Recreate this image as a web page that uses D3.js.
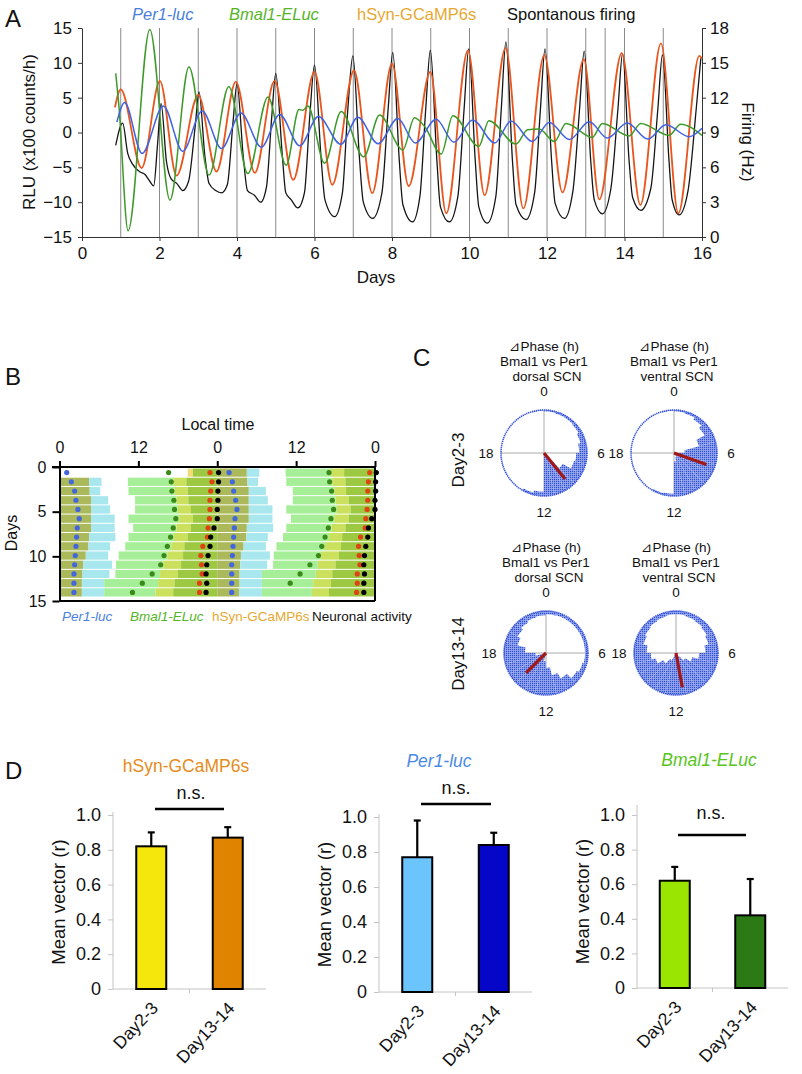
<!DOCTYPE html>
<html><head><meta charset="utf-8">
<script src="https://cdn.jsdelivr.net/npm/d3@7"></script>
<style>body{margin:0;background:#fff}svg{display:block}</style>
</head><body><svg id="c" width="802" height="1074"></svg>
<script>
const FONT = "'Liberation Sans', Arial, 'DejaVu Sans', sans-serif";

// ================= DATA =================
// Panel A
const aDayTicks = [0,2,4,6,8,10,12,14,16];
const aRluTicks = [-15,-10,-5,0,5,10,15];
const aHzTicks = [0,3,6,9,12,15,18];
const aDayLines = [1,2,3,4,5,6,7,8,9,10,11,12,13,13.5,14,15];
const aLegend = ["Per1-luc","Bmal1-ELuc","hSyn-GCaMP6s","Spontanous firing"];
const per1Trace = [[0.9,1.5],[1.1,4.3],[1.55,-3.0],[2.1,3.8],[2.6,-2.7],[3.1,3.1],[3.6,-2.3],[4.1,2.8],[4.63,-2.1],[5.1,2.6],[5.62,-1.9],[6.1,2.3],[6.68,-1.7],[7.12,2.2],[7.64,-1.6],[8.15,2.0],[8.6,-1.5],[9.14,1.9],[9.6,-1.4],[10.08,1.8],[10.65,-1.5],[11.07,1.65],[11.62,-1.3],[12.06,1.45],[12.58,-1.0],[13.09,1.55],[13.56,-0.8],[14.07,1.35],[14.6,-0.95],[15.07,1.1],[15.67,-0.6],[16.0,0.6]];
const bmal1Trace = [[0.87,8.5],[0.95,4.0],[1.19,-14.1],[1.75,14.8],[2.27,-9.7],[2.76,9.4],[3.28,-6.1],[3.79,6.6],[4.28,-5.9],[4.8,5.1],[5.27,-4.7],[5.6,3.3],[5.7,3.2],[5.83,3.8],[6.26,-4.4],[6.69,3.0],[7.27,-3.5],[7.68,2.5],[8.28,-2.5],[8.58,2.1],[8.85,0.8],[9.27,-3.1],[9.57,2.4],[10.24,-2.0],[10.5,1.7],[11.2,-1.65],[11.5,0.4],[11.8,0.5],[12.19,-1.3],[12.49,1.3],[13.17,-0.7],[13.43,1.3],[14.12,-0.5],[14.42,1.3],[15.15,-0.4],[15.45,1.2],[16.0,-0.4]];
const gcampTrace = [[0.85,3.6],[1.0,6.2],[1.54,-5.1],[2.01,7.4],[2.44,-6.2],[3.0,5.4],[3.47,-5.6],[3.97,7.3],[4.46,-5.8],[4.97,7.4],[5.45,-6.8],[6.0,8.7],[6.46,-7.5],[7.02,8.9],[7.49,-8.7],[8.0,9.9],[8.43,-7.7],[8.99,8.7],[9.4,-11.6],[9.96,11.8],[10.39,-9.0],[10.93,12.1],[11.39,-10.9],[11.93,11.1],[12.4,-8.6],[12.95,10.5],[13.35,-9.6],[13.93,11.4],[14.41,-10.4],[14.94,12.8],[15.39,-11.6],[15.93,11.0],[16.0,10.6]];
const firingTrace = [[0.87,7.9],[1.05,9.8],[1.18,7.2],[1.3,6.3],[1.5,5.6],[1.62,5.4],[1.75,4.8],[1.85,4.4],[1.95,8.0],[2.04,11.5],
 [2.18,6.5],[2.3,5.0],[2.45,4.6],[2.6,4.0],[2.75,4.8],[2.92,9.5],[3.02,12.5],
 [3.17,7.0],[3.28,4.6],[3.45,4.0],[3.6,3.8],[3.75,4.5],[3.9,10.0],[4.0,13.2],
 [4.16,7.0],[4.27,4.0],[4.45,3.6],[4.61,3.0],[4.76,4.3],[4.9,10.5],[5.0,14.1],
 [5.17,7.0],[5.26,3.8],[5.4,3.2],[5.57,2.5],[5.74,3.8],[5.88,10.5],[6.0,14.8],
 [6.17,6.8],[6.27,3.2],[6.52,1.75],[6.72,3.8],[6.86,11.0],[6.99,15.6],
 [7.16,6.8],[7.26,3.0],[7.5,1.6],[7.74,3.8],[7.9,11.0],[8.02,15.9],
 [8.19,6.5],[8.28,2.8],[8.53,1.3],[8.72,3.5],[8.87,11.0],[8.99,16.1],
 [9.16,6.5],[9.25,2.6],[9.48,1.3],[9.7,3.5],[9.86,11.0],[9.98,16.2],
 [10.15,6.5],[10.24,2.6],[10.46,1.2],[10.68,3.5],[10.82,11.0],[10.94,16.8],
 [11.11,6.5],[11.2,2.8],[11.46,1.5],[11.68,3.8],[11.83,11.0],[11.95,16.2],
 [12.12,6.5],[12.21,2.9],[12.45,1.6],[12.67,4.0],[12.84,11.0],[12.96,16.0],
 [13.13,6.5],[13.22,3.2],[13.43,2.0],[13.65,4.2],[13.83,11.0],[13.95,15.8],
 [14.12,6.5],[14.21,3.4],[14.42,2.3],[14.68,4.2],[14.86,11.0],[14.98,15.7],
 [15.15,6.5],[15.23,3.2],[15.41,1.9],[15.64,4.0],[15.85,11.0],[15.97,15.4]];

// Panel B (hours of local time, one value per day 0..14)
const bTimeTicks = [0,12,24,36,48];
const bDayTicks = [0,5,10,15];
const bLegend = ["Per1-luc","Bmal1-ELuc","hSyn-GCaMP6s","Neuronal activity"];
const bActEnd   = [0,4.5,4.6,4.8,4.8,4.8,4.8,4.5,4.4,4.0,3.6,3.5,3.4,3.4,3.3];
const bPerEnd   = [0,6.4,6.2,7.4,7.7,8.4,8.4,8.5,7.7,7.4,8.0,7.6,6.8,6.8,6.8];
const bBmalStart= [19.5,10.4,10.5,11.5,11.5,10.5,11.2,10.5,10.0,9.0,8.6,8.5,6.8,6.8,6.8];
const bBmalEnd  = [19.5,17.3,17.5,17.8,18.0,18.2,17.8,17.4,17.0,16.4,15.8,15.3,15.0,14.6,14.4];
const bYgEnd    = [20.3,19.3,19.5,19.6,20.0,20.3,20.0,19.5,19.0,18.8,18.5,18.0,17.5,17.3,17.0];
const bPer1Peak = [1.1,1.8,2.3,2.5,2.8,3.0,2.7,2.6,2.5,2.4,2.3,2.2,2.2,2.2,2.2];
const bBmalPeak = [16.6,17.0,17.1,17.4,17.5,17.7,17.3,16.9,16.4,15.9,15.4,14.1,12.6,11.1,null];
const bCaPeak   = [22.9,23.2,23.0,22.9,22.9,22.8,22.6,22.5,21.8,21.5,21.6,21.7,21.3,21.3,21.2];
const bFirePeak = [24.2,24.2,24.1,24.1,24.0,24.0,23.5,23.0,22.9,22.6,22.4,22.3,22.4,22.3,22.3];

// Panel C: fill start (fraction of radius) per 1-h bin, mean vector
const cClock = ["0","6","12","18"];
const cInnerD23 = [0.97,0.96,0.95,0.93,0.88,0.82,0.75,0.72,0.5,0.05,0,0,0.9,0.95,1,1,1,1,1,1,1,1,1,0.98];
const cInnerV23 = [0.97,0.95,0.9,0.82,0.6,0.25,0.05,0,0,0.05,0.1,0.2,0.95,0.97,1,1,1,1,1,1,1,1,1,0.98];
const cInnerD1314 = [0.92,0.93,0.93,0.93,0.93,0.93,0.93,0.9,0.85,0.7,0.55,0.35,0.2,0.05,0,0,0.05,0.25,0.5,0.7,0.78,0.84,0.88,0.9];
const cInnerV1314 = [0.92,0.9,0.88,0.85,0.8,0.7,0.55,0.4,0.25,0.1,0,0,0,0.05,0.2,0.35,0.5,0.6,0.7,0.8,0.85,0.88,0.9,0.92];
const cVecHour = [9.4,7.3,15.0,11.3];
const cVecLen = [0.78,0.8,0.67,0.83];

// Panel D
const dCats = ["Day2-3","Day13-14"];
const dTicks = [0,0.2,0.4,0.6,0.8,1.0];
const hsynMean = [0.82,0.87], hsynSD = [0.08,0.06];
const per1Mean = [0.77,0.84], per1SD = [0.21,0.07];
const bmalMean = [0.62,0.42], bmalSD = [0.08,0.21];

// ================= DRAW =================
const svg = d3.select('#c');
svg.append('rect').attr('width',802).attr('height',1074).attr('fill','#fff');
const defs = svg.append('defs');
const pat = defs.append('pattern').attr('id','stip').attr('width',2).attr('height',2).attr('patternUnits','userSpaceOnUse');
pat.append('rect').attr('width',2).attr('height',2).attr('fill','#9aabef');
pat.append('rect').attr('width',1.2).attr('height',1.2).attr('fill','#2f4fd6');

function styleAxis(g, fs, col, sw){
  g.attr('font-size',fs).attr('font-family',FONT);
  g.select('.domain').attr('stroke',col).attr('stroke-width',sw||1);
  g.selectAll('.tick line').attr('stroke',col).attr('stroke-width',sw||1);
  g.selectAll('.tick text').attr('fill','#111');
}
function label(x,y,t,fs,opts={}){
  const e = svg.append('text').attr('x',x).attr('y',y).text(t)
    .attr('font-size',fs).attr('font-family',FONT).attr('fill',opts.fill||'#111')
    .attr('text-anchor',opts.anchor||'start');
  if(opts.italic) e.attr('font-style','italic');
  if(opts.rot!==undefined) e.attr('transform',`rotate(${opts.rot},${x},${y})`);
  if(opts.ls) e.attr('letter-spacing',opts.ls);
  return e;
}

// ---------- Panel A ----------
const xA = d3.scaleLinear().domain([0,16]).range([82,702]);
const yA = d3.scaleLinear().domain([-15,15]).range([237,28]);
const yHz = d3.scaleLinear().domain([0,18]).range([237,28]);
svg.append('g').selectAll('line').data(aDayLines).join('line')
  .attr('x1',d=>xA(d)).attr('x2',d=>xA(d)).attr('y1',yA(15)).attr('y2',yA(-15))
  .attr('stroke','#8a8a8a').attr('stroke-width',1);
const gl = svg.append('g').attr('transform','translate(82,0)')
  .call(d3.axisLeft(yA).tickValues(aRluTicks).tickSize(4).tickSizeOuter(0).tickPadding(6));
styleAxis(gl,17,'#333');
const gb = svg.append('g').attr('transform','translate(0,237)')
  .call(d3.axisBottom(xA).tickValues(aDayTicks).tickSize(4).tickSizeOuter(0).tickPadding(6));
styleAxis(gb,17,'#333');
const gr = svg.append('g').attr('transform','translate(702,0)')
  .call(d3.axisRight(yHz).tickValues(aHzTicks).tickSize(4).tickSizeOuter(0).tickPadding(4));
styleAxis(gr,17,'#333');
const lineA = d3.line().x(d=>xA(d[0])).y(d=>yA(d[1])).curve(d3.curveMonotoneX);
const lineHz = d3.line().x(d=>xA(d[0])).y(d=>yHz(d[1])).curve(d3.curveMonotoneX);
svg.append('path').attr('d',lineHz(firingTrace)).attr('fill','none').attr('stroke','#151515').attr('stroke-width',1.3);
svg.append('path').attr('d',lineA(gcampTrace)).attr('fill','none').attr('stroke','#e8561e').attr('stroke-width',1.8);
svg.append('path').attr('d',lineA(bmal1Trace)).attr('fill','none').attr('stroke','#3c9a28').attr('stroke-width',1.5);
svg.append('path').attr('d',lineA(per1Trace)).attr('fill','none').attr('stroke','#4262e0').attr('stroke-width',1.5);
label(5,27,'A',24);
label(132,20,aLegend[0],16.5,{italic:true,fill:'#4a7fe0'});
label(229,20,aLegend[1],16.5,{italic:true,fill:'#56b428'});
label(357,20,aLegend[2],16.5,{fill:'#e8a830'});
label(507,20,aLegend[3],16.5);
label(35,132,'RLU (x100 counts/h)',17,{anchor:'middle',rot:-90});
label(742,142,'Firing (Hz)',17,{anchor:'middle',rot:90});
label(376,283,'Days',17,{anchor:'middle'});

// ---------- Panel B ----------
const xB = d3.scaleLinear().domain([0,48]).range([59.5,375]);
const yBday = d3.scaleLinear().domain([0,15]).range([467,601]);
const rowB = d3.scaleBand().domain(d3.range(14)).range([468,597]);
const bColors = {act:'#abb95a', per:'#a9e7ee', bmal:'#a6ef98', yg:'#cbe05c', grn:'#9cc842'};
function daySegs(d){
  return [
    {a:0,b:bActEnd[d],c:bColors.act},
    {a:bActEnd[d],b:bPerEnd[d],c:bColors.per},
    {a:bBmalStart[d],b:bBmalEnd[d],c:bColors.bmal},
    {a:bBmalEnd[d],b:bYgEnd[d],c:d===0?'#f2dc7a':bColors.yg},
    {a:bYgEnd[d],b:24,c:bColors.grn}
  ].filter(s=>s.b>s.a);
}
const gB = svg.append('g');
d3.range(14).forEach(r=>{
  const segs = daySegs(r).concat(daySegs(r+1).map(s=>({a:s.a+24,b:s.b+24,c:s.c})));
  gB.selectAll(null).data(segs).join('rect')
    .attr('x',s=>xB(s.a)).attr('width',s=>xB(s.b)-xB(s.a))
    .attr('y',rowB(r)+0.5).attr('height',rowB.bandwidth()-1).attr('fill',s=>s.c);
  const dots = [];
  const add=(h,c)=>{ if(h!==null && h<=48.4) dots.push({h,c}); };
  add(bPer1Peak[r],'#4466dd'); add(bBmalPeak[r],'#3a8a1a'); add(bCaPeak[r],'#dd4411'); add(bFirePeak[r],'#000');
  if(bPer1Peak[r+1]!==null) add(bPer1Peak[r+1]+24,'#4466dd');
  if(bBmalPeak[r+1]!==null) add(bBmalPeak[r+1]+24,'#3a8a1a');
  add(bCaPeak[r+1]+24,'#dd4411'); add(bFirePeak[r+1]+24,'#000');
  gB.selectAll(null).data(dots).join('circle')
    .attr('cx',d=>xB(d.h)).attr('cy',rowB(r)+rowB.bandwidth()/2).attr('r',2.6).attr('fill',d=>d.c);
});
const gBt = svg.append('g').attr('transform','translate(0,467)')
  .call(d3.axisTop(xB).tickValues(bTimeTicks).tickFormat(d=>d%24).tickSize(6).tickSizeOuter(0).tickPadding(8));
styleAxis(gBt,16,'#000',2);
gBt.select('.domain').attr('d','M52,0H376');
const gBl = svg.append('g').attr('transform','translate(59.5,0)')
  .call(d3.axisLeft(yBday).tickValues(bDayTicks).tickSize(7).tickSizeOuter(0).tickPadding(6));
styleAxis(gBl,16,'#000',2);
svg.append('line').attr('x1',xB(48)).attr('x2',xB(48)).attr('y1',467).attr('y2',yBday(15)).attr('stroke','#000').attr('stroke-width',2);
svg.append('line').attr('x1',xB(0)).attr('x2',xB(48)).attr('y1',yBday(15)).attr('y2',yBday(15)).attr('stroke','#000').attr('stroke-width',2);
label(5,385,'B',24);
label(218,430,'Local time',16,{anchor:'middle'});
label(17,533,'Days',16,{anchor:'middle',rot:-90});
label(62,621,bLegend[0],13.5,{italic:true,fill:'#4a7fe0'});
label(130,621,bLegend[1],13.5,{italic:true,fill:'#56b428'});
label(212,621,bLegend[2],13.5,{fill:'#e8a830'});
label(312,621,bLegend[3],13.5);

// ---------- Panel C ----------
const arcC = d3.arc();
function polar(cx,cy,R,inner,vh,vl,title2){
  const g = svg.append('g').attr('transform',`translate(${cx},${cy})`);
  g.append('line').attr('x1',-R).attr('x2',R).attr('y1',0).attr('y2',0).attr('stroke','#aaa');
  g.append('line').attr('x1',0).attr('x2',0).attr('y1',-R).attr('y2',R).attr('stroke','#aaa');
  g.selectAll(null).data(inner).join('path')
    .attr('d',(v,i)=> v>=1 ? null : arcC({innerRadius:R*v,outerRadius:R,startAngle:i/24*2*Math.PI,endAngle:(i+1)/24*2*Math.PI}))
    .attr('fill','url(#stip)');
  g.append('circle').attr('r',R).attr('fill','none').attr('stroke','#3552d6').attr('stroke-width',1.6).attr('stroke-dasharray','1.3,0.7');
  const a = vh/24*2*Math.PI;
  g.append('line').attr('x1',0).attr('y1',0).attr('x2',R*vl*Math.sin(a)).attr('y2',-R*vl*Math.cos(a))
    .attr('stroke','#a01818').attr('stroke-width',3.2);
  const fs=13.5;
  label(cx,cy-R-14,cClock[0],fs,{anchor:'middle'});
  label(cx+R+14,cy+5,cClock[1],fs,{anchor:'middle'});
  label(cx,cy+R+21,cClock[2],fs,{anchor:'middle'});
  label(cx-R-15,cy+5,cClock[3],fs,{anchor:'middle'});
  label(cx,cy-R-59,'\u22BFPhase (h)',fs,{anchor:'middle'});
  label(cx,cy-R-44,'Bmal1 vs Per1',fs,{anchor:'middle'});
  label(cx+3,cy-R-29,title2,fs,{anchor:'middle'});
}
polar(544,453,43,cInnerD23,cVecHour[0],cVecLen[0],'dorsal SCN');
polar(674,453,43,cInnerV23,cVecHour[1],cVecLen[1],'ventral SCN');
polar(546,653,42,cInnerD1314,cVecHour[2],cVecLen[2],'dorsal SCN');
polar(676,653,42,cInnerV1314,cVecHour[3],cVecLen[3],'ventral SCN');
label(413,366,'C',24);
label(464,460,'Day2-3',17,{anchor:'middle',rot:-90});
label(464,654,'Day13-14',17,{anchor:'middle',rot:-90});

// ---------- Panel D ----------
function barChart(c){
  const x = d3.scalePoint().domain(dCats).range([c.ax,c.ar]).padding(0.5);
  const y = d3.scaleLinear().domain([0,1]).range([c.y0,c.y1]);
  const g = svg.append('g');
  const ga = g.append('g').attr('transform',`translate(${c.ax},0)`)
    .call(d3.axisLeft(y).tickValues(dTicks).tickFormat(d=>d===0?'0':d.toFixed(1)).tickSize(5).tickSizeOuter(0).tickPadding(7));
  styleAxis(ga,18,'#c4c4c4',1);
  ga.select('.domain').attr('d',`M0,${c.y0}V${c.ytop}`);
  g.append('line').attr('x1',c.ax).attr('x2',c.ar).attr('y1',c.y0).attr('y2',c.y0).attr('stroke','#c4c4c4');
  g.append('line').attr('x1',(c.ax+c.ar)/2).attr('x2',(c.ax+c.ar)/2).attr('y1',c.y0).attr('y2',c.y0+4).attr('stroke','#c4c4c4');
  const bw = 30;
  dCats.forEach((k,i)=>{
    const cx = x(k), m=c.mean[i], s=c.sd[i];
    g.append('line').attr('x1',cx).attr('x2',cx).attr('y1',y(m)).attr('y2',y(m+s)).attr('stroke','#000').attr('stroke-width',2.2);
    g.append('line').attr('x1',cx-3.5).attr('x2',cx+3.5).attr('y1',y(m+s)).attr('y2',y(m+s)).attr('stroke','#000').attr('stroke-width',2.2);
    g.append('rect').attr('x',cx-bw/2).attr('width',bw).attr('y',y(m)).attr('height',y(0)-y(m))
      .attr('fill',c.colors[i]).attr('stroke','#000').attr('stroke-width',2);
    label(cx+8,c.y0+20,k,17.5,{anchor:'end',rot:-47});
  });
  label(c.tx,c.ty,c.title,17.5,{anchor:'middle',fill:c.tcol,italic:c.italic});
  label(c.nx,c.ny,'n.s.',18,{anchor:'middle'});
  g.append('line').attr('x1',c.lx0).attr('x2',c.lx1).attr('y1',c.ly).attr('y2',c.ly).attr('stroke','#000').attr('stroke-width',2.6);
  label(c.ax-48,(c.y0+c.y1)/2,'Mean vector (r)',18.5,{anchor:'middle',rot:-90});
}
barChart({ax:113,ar:266,y0:989,y1:815,ytop:812,mean:hsynMean,sd:hsynSD,colors:['#f5e60c','#e08400'],
  title:'hSyn-GCaMP6s',tcol:'#e68c1c',italic:false,tx:186,ty:772,nx:191,ny:799,lx0:155,lx1:224,ly:809});
barChart({ax:379,ar:532,y0:992,y1:817,ytop:814,mean:per1Mean,sd:per1SD,colors:['#6cc4fc','#0606c8'],
  title:'Per1-luc',tcol:'#4a8ae6',italic:true,tx:439,ty:767,nx:456,ny:794,lx0:421,lx1:491,ly:804});
barChart({ax:637,ar:788,y0:988,y1:815,ytop:805,mean:bmalMean,sd:bmalSD,colors:['#9ae600','#2c7a16'],
  title:'Bmal1-ELuc',tcol:'#58c41c',italic:true,tx:709,ty:766,nx:711,ny:819,lx0:678,lx1:746,ly:835});
label(5,779,'D',24);
</script></body></html>
